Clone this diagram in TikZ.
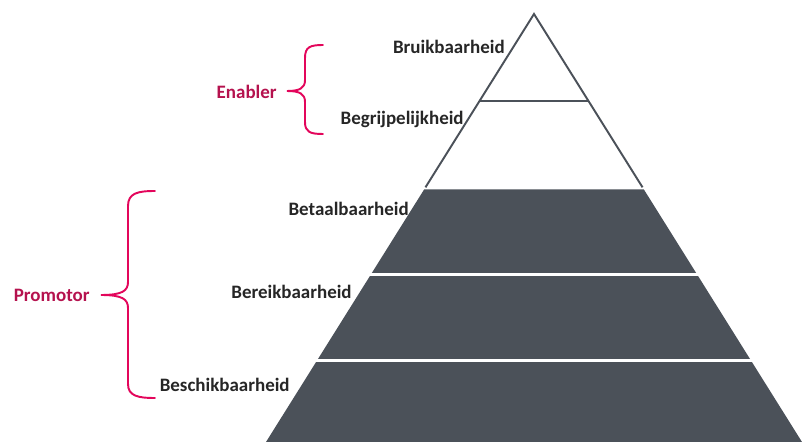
\documentclass[tikz,border=0pt]{standalone}
\usepackage{fontspec}
\setmainfont{Carlito}
\usetikzlibrary{calc}
\definecolor{slab}{HTML}{4B5159}
\definecolor{labelred}{HTML}{B5124E}
\definecolor{bracered}{HTML}{E3065B}

\begin{document}
\begin{tikzpicture}[
  x=0.02cm,y=-0.02cm,
  lvl/.style={inner sep=0pt,anchor=base east,font=\fontsize{10.8}{12}\selectfont\bfseries,text=black!85},
  grp/.style={inner sep=0pt,anchor=base east,font=\fontsize{10.8}{12}\selectfont\bfseries,text=labelred},
  edge/.style={draw=slab,line width=1.1pt},
  gap/.style={draw=white,line width=1.7pt},
  curly/.style={draw=bracered,line width=1.1pt,line cap=round},
]
  \useasboundingbox (0,0) rectangle (802,442);

  % pyramid corners
  \coordinate (apex) at (534,14);
  \coordinate (bl) at (266,442);
  \coordinate (br) at (802,442);

  % dark lower part
  \fill[slab] ($(apex)!0.41!(bl)$) -- ($(apex)!0.41!(br)$) -- (br) -- (bl) -- cycle;
  \draw[gap] ($(apex)!0.6086!(bl)+(-5,0)$) -- ($(apex)!0.6086!(br)+(5,0)$);
  \draw[gap] ($(apex)!0.8096!(bl)+(-5,0)$) -- ($(apex)!0.8096!(br)+(5,0)$);

  % open top triangle
  \draw[edge,line join=miter] ($(apex)!0.405!(bl)$) -- (apex) -- ($(apex)!0.405!(br)$);
  \draw[edge] ($(apex)!0.2033!(bl)$) -- ($(apex)!0.2033!(br)$);

  % levels
  \node[lvl] (bruik) at (505,54) {Bruikbaarheid};
  \node[lvl] (begrip) at (464,125) {Begrijpelijkheid};
  \node[lvl] (betaal) at (409,216) {Betaalbaarheid};
  \node[lvl] (bereik) at (352,299) {Bereikbaarheid};
  \node[lvl] (beschik) at (290,392) {Beschikbaarheid};

  % braces
  \coordinate (entop) at (323,45);
  \coordinate (entip) at (287,91);
  \coordinate (enbot) at (323,134);
  \draw[curly] (entop) .. controls (310,45) and (305,47) .. (305,58) -- (305,80)
    .. controls (305,88) and (300,91) .. (entip)
    .. controls (300,91) and (305,94) .. (305,102) -- (305,122)
    .. controls (305,132) and (310,134) .. (enbot);

  \coordinate (prtop) at (155,191);
  \coordinate (prtip) at (101,295);
  \coordinate (prbot) at (155,398);
  \draw[curly] (prtop) .. controls (138,191) and (128,193) .. (128,206) -- (128,282)
    .. controls (128,291) and (122,295) .. (prtip)
    .. controls (122,295) and (128,299) .. (128,308) -- (128,384)
    .. controls (128,396) and (138,398) .. (prbot);

  \node[grp] (enabler) at (277,99) {Enabler};
  \node[grp] (promotor) at (90,302) {Promotor};
\end{tikzpicture}
\end{document}
